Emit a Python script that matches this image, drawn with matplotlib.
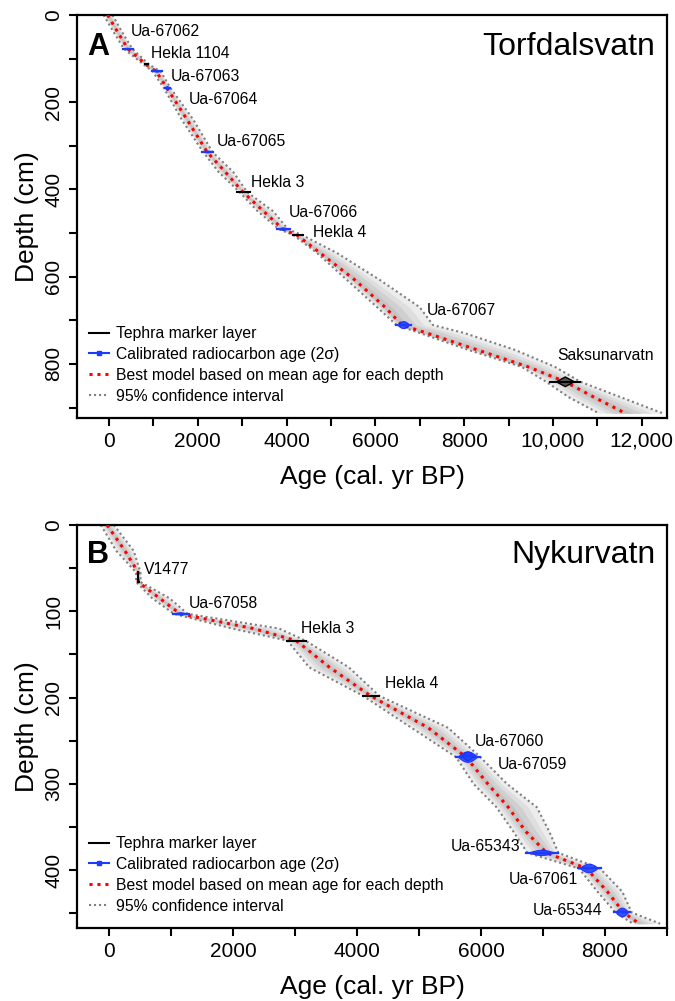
import numpy as np
import matplotlib
matplotlib.use("Agg")
import matplotlib.pyplot as plt
from matplotlib.lines import Line2D

plt.rcParams['font.family'] = ['Liberation Sans', 'DejaVu Sans']

# ---------------- Panel A: Torfdalsvatn ----------------
a_depth = [0, 40, 78, 115, 129, 168, 240, 314, 360, 406, 450, 491, 505, 546, 608, 670, 711, 729, 768, 807, 841, 876, 913]
a_mean = [-30, 200, 430, 855, 1060, 1310, 1760, 2210, 2620, 3020, 3480, 3920, 4240, 4760, 5545, 6220, 6600, 7150, 8300, 9450, 10280, 10920, 11630]
a_lo = [-120, 110, 340, 800, 980, 1240, 1640, 2120, 2470, 2940, 3350, 3830, 4160, 4690, 5365, 6040, 6480, 7000, 8100, 9300, 9850, 10350, 11030]
a_hi = [80, 300, 530, 920, 1160, 1390, 1900, 2330, 2800, 3110, 3700, 4030, 4360, 5140, 6110, 7000, 7300, 8000, 9150, 10050, 10620, 11520, 12470]

a_teph_names = ["Hekla 1104", "Hekla 3", "Hekla 4", "Saksunarvatn"]
a_teph_depth = [112, 406, 505, 841]
a_teph_lo = [820, 2890, 4150, 9940]
a_teph_hi = [880, 3180, 4375, 10620]

a_c14_names = ["Ua-67062", "Ua-67063", "Ua-67064", "Ua-67065", "Ua-67066", "Ua-67067"]
a_c14_depth = [78, 129, 168, 314, 491, 711]
a_c14_lo = [315, 970, 1260, 2095, 3790, 6470]
a_c14_hi = [540, 1195, 1375, 2345, 4080, 6810]

a_xticks = list(range(0, 13000, 1000))
a_xticklabels = ["0", "", "2000", "", "4000", "", "6000", "", "8000", "", "10,000", "", "12,000"]
a_yticks = list(range(0, 1000, 100))
a_yticklabels = ["0", "", "200", "", "400", "", "600", "", "800", ""]

# ---------------- Panel B: Nykurvatn ----------------
b_depth = [0, 30, 55, 66, 85, 103, 120, 134, 165, 198, 235, 269, 300, 327, 355, 380, 398, 425, 449, 462]
b_mean = [-30, 260, 473, 473, 820, 1150, 2330, 3020, 3560, 4220, 5150, 5760, 6110, 6440, 6720, 7060, 7700, 8040, 8300, 8550]
b_lo = [-130, 120, 440, 440, 700, 1050, 1990, 2880, 3230, 4100, 4880, 5600, 5880, 6250, 6520, 6750, 7580, 7880, 8170, 8450]
b_hi = [80, 400, 510, 510, 980, 1270, 2745, 3170, 3870, 4360, 5470, 5990, 6420, 6900, 7100, 7250, 7920, 8280, 8430, 8890]

b_teph_names = ["V1477", "Hekla 3", "Hekla 4"]
b_teph_depth = [66, 134, 198]
b_teph_lo = [473, 2870, 4090]
b_teph_hi = [540, 3180, 4350]

b_c14_names = ["Ua-67058", "Ua-67060", "Ua-67059", "Ua-65343", "Ua-67061", "Ua-65344"]
b_c14_depth = [103, 269, 268, 380, 398, 449]
b_c14_lo = [1030, 5590, 5680, 6725, 7560, 8150]
b_c14_hi = [1285, 5990, 5900, 7240, 7930, 8410]

b_xticks = list(range(0, 10000, 1000))
b_xticklabels = ["0", "", "2000", "", "4000", "", "6000", "", "8000", ""]
b_yticks = list(range(0, 500, 50))
b_yticklabels = ["0", "", "100", "", "200", "", "300", "", "400", ""]

legend_labels = ["Tephra marker layer", "Calibrated radiocarbon age (2\u03c3)",
                 "Best model based on mean age for each depth", "95% confidence interval"]

# ---------------- label layout (data coords) ----------------
a_label_pos = {"Ua-67062": (489, 38), "Hekla 1104": (940, 89), "Ua-67063": (1390, 141),
               "Ua-67064": (1805, 193), "Ua-67065": (2428, 289), "Hekla 3": (3195, 385),
               "Ua-67066": (4043, 453), "Hekla 4": (4607, 499), "Ua-67067": (7163, 677),
               "Saksunarvatn": (10095, 780)}
b_label_pos = {"V1477": (562, 51), "Ua-67058": (1290, 91), "Hekla 3": (3093, 120),
               "Hekla 4": (4446, 184), "Ua-67060": (5901, 251), "Ua-67059": (6276, 277),
               "Ua-65343": (6640, 373), "Ua-67061": (6447, 411), "Ua-65344": (6838, 447)}
b_label_ha = {"Ua-65343": "right"}

a_blob_h = [1.5, 2, 4, 2, 2.5, 8]
b_blob_h = [1.2, 6, 5, 3, 5, 5]

RED_LS = (0, (1, 1.6))
GRAY_LS = (0, (1, 1.4))


def draw_model(ax, depth, mean, lo, hi):
    d = np.asarray(depth, float)
    m = np.asarray(mean, float)
    l = np.asarray(lo, float)
    h = np.asarray(hi, float)
    ax.fill_betweenx(d, l, h, color='#ececec', lw=0, zorder=1)
    for f, c in [(0.7, '#dedede'), (0.45, '#d0d0d0'), (0.2, '#c4c4c4')]:
        ax.fill_betweenx(d, m + f * (l - m), m + f * (h - m), color=c, lw=0, zorder=1)
    ax.plot(l, d, color='#7f7f7f', lw=1.5, ls=GRAY_LS, zorder=2)
    ax.plot(h, d, color='#7f7f7f', lw=1.5, ls=GRAY_LS, zorder=2)
    ax.plot(m, d, color='#ff0000', lw=2.2, ls=RED_LS, zorder=3)


def draw_c14(ax, depth, lo, hi, hh):
    mid = 0.5 * (lo + hi)
    half = 0.5 * (hi - lo)
    t = np.linspace(-1, 1, 41)
    x = mid + t * half * 0.8
    y = hh * (1 - t ** 2) ** 1.2
    ax.fill(np.r_[x, x[::-1]], np.r_[depth - y, (depth + y)[::-1]],
            color='#2244ff', ec='#1a2cff', lw=0.8, zorder=4, alpha=0.9)
    ax.plot([lo, hi], [depth, depth], color='#1a3cff', lw=1.6, zorder=4)


def draw_teph(ax, depth, lo, hi):
    ax.plot([lo, hi], [depth, depth], color='black', lw=1.5, zorder=4)


def style_axes(ax, xticks, xtl, yticks, ytl, xlim, ylim):
    ax.set_xlim(*xlim)
    ax.set_ylim(*ylim)
    ax.set_xticks(xticks)
    ax.set_xticklabels(xtl)
    ax.set_yticks(yticks)
    ax.set_yticklabels(ytl, rotation=90, va='center')
    for s in ax.spines.values():
        s.set_linewidth(1.6)
    ax.tick_params(direction='out', length=6, width=1.5, labelsize=15)
    ax.tick_params(axis='x', pad=4)
    ax.tick_params(axis='y', pad=4)
    ax.set_xlabel("Age (cal. yr BP)", fontsize=19, labelpad=10)
    ax.set_ylabel("Depth (cm)", fontsize=19, labelpad=4)


def add_legend(ax):
    handles = [Line2D([], [], color='black', lw=1.5),
               Line2D([], [], color='#1a3cff', lw=1.5, marker='s', ms=3),
               Line2D([], [], color='#ff0000', lw=2.2, ls=RED_LS),
               Line2D([], [], color='#7f7f7f', lw=1.5, ls=GRAY_LS)]
    ax.legend(handles, legend_labels, loc='lower left', bbox_to_anchor=(0.02, 0.035),
              frameon=False, fontsize=11.3, handlelength=1.3, handletextpad=0.45,
              labelspacing=0.38, borderpad=0, borderaxespad=0)


fig = plt.figure(figsize=(6.75, 10.01), dpi=100)
axA = fig.add_axes([77 / 675, 1 - 418 / 1001, 590 / 675, 403 / 1001])
axB = fig.add_axes([77 / 675, 1 - 928 / 1001, 590 / 675, 403 / 1001])

# Panel A
draw_model(axA, a_depth, a_mean, a_lo, a_hi)
for n, d, lo, hi in zip(a_teph_names, a_teph_depth, a_teph_lo, a_teph_hi):
    if n == "Saksunarvatn":
        mid = 0.5 * (lo + hi)
        axA.fill([lo + 0.2 * (hi - lo), mid, hi - 0.2 * (hi - lo), mid],
                 [d, d - 11, d, d + 11], color='#555555', ec='black', lw=1, zorder=4)
    draw_teph(axA, d, lo, hi)
for d, lo, hi, hh in zip(a_c14_depth, a_c14_lo, a_c14_hi, a_blob_h):
    draw_c14(axA, d, lo, hi, hh)
for n, (x, y) in a_label_pos.items():
    axA.text(x, y, n, fontsize=11.3, ha='left', va='center', zorder=5)
style_axes(axA, a_xticks, a_xticklabels, a_yticks, a_yticklabels, (-720, 12570), (924, 0))
axA.text(0.017, 0.9007, "A", transform=axA.transAxes, fontsize=22, fontweight='bold',
         ha='left', va='baseline')
axA.text(0.98, 0.9007, "Torfdalsvatn", transform=axA.transAxes, fontsize=23,
         ha='right', va='baseline')
add_legend(axA)

# Panel B
draw_model(axB, b_depth, b_mean, b_lo, b_hi)
for n, d, lo, hi in zip(b_teph_names, b_teph_depth, b_teph_lo, b_teph_hi):
    if n == "V1477":
        axB.plot([lo, lo], [55, d], color='black', lw=1.5, zorder=4)
        axB.plot([lo, lo + 0.3 * (hi - lo)], [d, d], color='black', lw=1.5, zorder=4)
    else:
        draw_teph(axB, d, lo, hi)
for d, lo, hi, hh in zip(b_c14_depth, b_c14_lo, b_c14_hi, b_blob_h):
    draw_c14(axB, d, lo, hi, hh)
for n, (x, y) in b_label_pos.items():
    axB.text(x, y, n, fontsize=11.3, ha=b_label_ha.get(n, 'left'), va='center', zorder=5)
style_axes(axB, b_xticks, b_xticklabels, b_yticks, b_yticklabels, (-514, 9000), (467, 0))
axB.text(0.017, 0.9057, "B", transform=axB.transAxes, fontsize=22, fontweight='bold',
         ha='left', va='baseline')
axB.text(0.98, 0.9057, "Nykurvatn", transform=axB.transAxes, fontsize=23,
         ha='right', va='baseline')
add_legend(axB)

fig.savefig("out.png", dpi=100)
